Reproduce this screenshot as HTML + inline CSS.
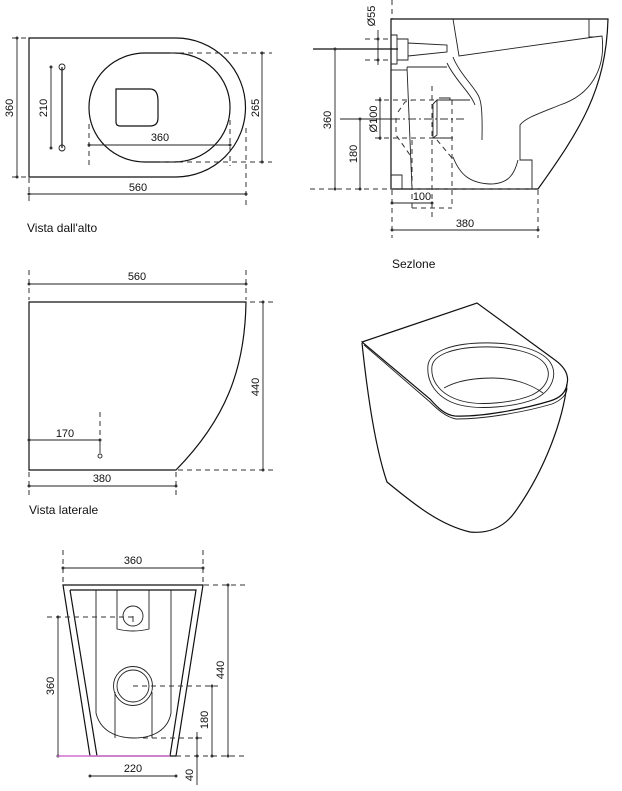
<!DOCTYPE html>
<html><head><meta charset="utf-8"><style>
html,body{margin:0;padding:0;background:#fff;}
svg{display:block;}
text{font-family:"Liberation Sans",sans-serif;font-size:11px;fill:#111;}
.l{stroke:#111;stroke-width:1.2;fill:none;}
.t{stroke:#222;stroke-width:0.9;fill:none;}
.d{stroke:#333;stroke-width:1;fill:none;stroke-dasharray:5,4;}
.dot{fill:#333;}
</style></head><body>
<svg width="622" height="791" viewBox="0 0 622 791" xmlns="http://www.w3.org/2000/svg">
<!-- TOP VIEW -->
<path class="l" d="M29,38 H176 A69.5,69.5 0 0 1 176,177 H29 Z"/>
<rect class="l" x="89" y="53" width="141" height="109" rx="56" ry="54"/>
<path class="l" d="M116,89 H150 Q158,89 158,101 V118 Q158,126 150,126 H120 Q116,126 116,122 Z"/>
<line class="l" x1="62" y1="67" x2="62" y2="148"/>
<circle class="t" cx="62" cy="67" r="3"/><circle class="t" cx="62" cy="148" r="3"/>
<line class="t" x1="51" y1="67" x2="51" y2="148"/><circle class="dot" cx="51" cy="67" r="1.5"/><circle class="dot" cx="51" cy="148" r="1.5"/>
<text transform="translate(47,108) rotate(-90)" text-anchor="middle">210</text>
<line class="t" x1="17" y1="38" x2="17" y2="177"/><line class="d" x1="12" y1="38" x2="29" y2="38"/><line class="d" x1="12" y1="177" x2="29" y2="177"/>
<circle class="dot" cx="17" cy="38" r="1.5"/><circle class="dot" cx="17" cy="177" r="1.5"/>
<text transform="translate(13,108) rotate(-90)" text-anchor="middle">360</text>
<line class="d" x1="170" y1="53" x2="272" y2="53"/><line class="d" x1="160" y1="162" x2="272" y2="162"/>
<line class="t" x1="262" y1="53" x2="262" y2="162"/><circle class="dot" cx="262" cy="53" r="1.5"/><circle class="dot" cx="262" cy="162" r="1.5"/>
<text transform="translate(259,108) rotate(-90)" text-anchor="middle">265</text>
<line class="t" x1="89" y1="145" x2="230" y2="145"/><circle class="dot" cx="89" cy="145" r="1.5"/><circle class="dot" cx="230" cy="145" r="1.5"/>
<line class="d" x1="89" y1="124" x2="89" y2="166"/><line class="d" x1="230" y1="120" x2="230" y2="166"/>
<text x="160" y="141" text-anchor="middle">360</text>
<line class="t" x1="29" y1="194" x2="246" y2="194"/><circle class="dot" cx="29" cy="194" r="1.5"/><circle class="dot" cx="246" cy="194" r="1.5"/>
<line class="d" x1="29" y1="178" x2="29" y2="205"/><line class="d" x1="246" y1="128" x2="246" y2="205"/>
<text x="138" y="191" text-anchor="middle">560</text>
<text x="27" y="232" style="font-size:12px">Vista dall'alto</text>

<!-- SECTION -->
<line class="d" x1="392" y1="0" x2="392" y2="19"/>
<path class="l" d="M391,19 H608 C606,90 580,130 538,189 H391 Z"/>
<path class="t" d="M453,19 L459,56 L594,37 L589,37 L589,19"/>
<path class="t" d="M594,37 L602,36 C606,70 590,95 560,105 C540,113 525,118 520,125 L520,160 L532,160 L532,189"/>
<path class="t" d="M453,57 C460,75 478,90 480,100 C483,110 482,130 482,140"/>
<path class="t" d="M447,63 C455,80 470,92 475,105"/>
<path class="t" d="M453,157 C460,175 470,183 490,184 C510,184 515,172 518,160"/>
<path class="t" d="M407,67 H447 M407,67 L412,189"/>
<path class="t" d="M391,35 H397 V64 H391 M397,39 H408 V60 H397 M408,43 L447,45 L447,52 L408,56"/>
<path class="t" d="M391,70 H407"/>
<path class="t" d="M391,175 H402 V189"/>
<path class="t" d="M437,100 H470 M433,104 L437,100 V135 L433,138 H453 M433,104 V138 M439,98 H450 V100"/>
<line class="d" x1="365" y1="39" x2="392" y2="39"/><line class="d" x1="365" y1="60" x2="392" y2="60"/>
<line class="t" x1="378" y1="30" x2="378" y2="65"/><circle class="dot" cx="378" cy="39" r="1.5"/><circle class="dot" cx="378" cy="60" r="1.5"/>
<text transform="translate(375,16) rotate(-90)" text-anchor="middle">Ø55</text>
<line class="l" x1="313" y1="49" x2="398" y2="49"/>
<line class="t" x1="335" y1="49" x2="335" y2="189"/><circle class="dot" cx="335" cy="49" r="1.5"/><circle class="dot" cx="335" cy="189" r="1.5"/>
<text transform="translate(331,120) rotate(-90)" text-anchor="middle">360</text>
<line class="d" x1="310" y1="189" x2="392" y2="189"/><line class="d" x1="412" y1="189" x2="538" y2="189"/>
<line class="t" x1="340" y1="119" x2="392" y2="119"/><line class="d" x1="392" y1="119" x2="466" y2="119" style="stroke-dasharray:8,3,2,3"/>
<line class="t" x1="360" y1="119" x2="360" y2="189"/><circle class="dot" cx="360" cy="119" r="1.5"/><circle class="dot" cx="360" cy="189" r="1.5"/>
<text transform="translate(357,154) rotate(-90)" text-anchor="middle">180</text>
<line class="d" x1="375" y1="100" x2="440" y2="100"/><line class="d" x1="375" y1="138" x2="440" y2="138"/>
<line class="t" x1="380" y1="97" x2="380" y2="140"/><circle class="dot" cx="380" cy="100" r="1.5"/><circle class="dot" cx="380" cy="138" r="1.5"/>
<text transform="translate(377,119) rotate(-90)" text-anchor="middle">Ø100</text>
<line class="d" x1="432" y1="86" x2="432" y2="218"/><line class="d" x1="452" y1="100" x2="452" y2="208"/><line class="d" x1="412" y1="140" x2="412" y2="208"/>
<line class="d" x1="412" y1="208" x2="452" y2="208"/>
<path class="d" d="M396,118 L396,135 L410,155 M398,112 L405,102 L412,100 M437,140 L452,158"/>
<line class="t" x1="392" y1="203" x2="432" y2="203"/><circle class="dot" cx="392" cy="203" r="1.5"/><circle class="dot" cx="432" cy="203" r="1.5"/>
<text x="422" y="200" text-anchor="middle">100</text>
<line class="d" x1="392" y1="190" x2="392" y2="238"/><line class="d" x1="538" y1="190" x2="538" y2="238"/>
<line class="t" x1="392" y1="230" x2="538" y2="230"/><circle class="dot" cx="392" cy="230" r="1.5"/><circle class="dot" cx="538" cy="230" r="1.5"/>
<text x="465" y="227" text-anchor="middle">380</text>
<text x="392" y="268" style="font-size:12px">Sezlone</text>

<!-- SIDE VIEW -->
<path class="l" d="M29,302 H246 C245,370 225,420 176,470 H29 Z"/>
<line class="d" x1="29" y1="270" x2="29" y2="300"/><line class="d" x1="246" y1="270" x2="246" y2="300"/>
<line class="t" x1="29" y1="284" x2="246" y2="284"/><circle class="dot" cx="29" cy="284" r="1.5"/><circle class="dot" cx="246" cy="284" r="1.5"/>
<text x="137" y="280" text-anchor="middle">560</text>
<line class="d" x1="250" y1="302" x2="276" y2="302"/><line class="d" x1="178" y1="470" x2="276" y2="470"/>
<line class="t" x1="263" y1="302" x2="263" y2="470"/><circle class="dot" cx="263" cy="302" r="1.5"/><circle class="dot" cx="263" cy="470" r="1.5"/>
<text transform="translate(259,387) rotate(-90)" text-anchor="middle">440</text>
<line class="t" x1="29" y1="440" x2="100" y2="440"/><circle class="dot" cx="29" cy="440" r="1.5"/><circle class="dot" cx="100" cy="440" r="1.5"/>
<line class="d" x1="100" y1="412" x2="100" y2="438"/><line class="t" x1="100" y1="441" x2="100" y2="453"/><circle class="t" cx="100" cy="456" r="2"/>
<text x="65" y="437" text-anchor="middle">170</text>
<line class="d" x1="29" y1="472" x2="29" y2="497"/><line class="d" x1="176" y1="472" x2="176" y2="497"/>
<line class="t" x1="29" y1="486" x2="176" y2="486"/><circle class="dot" cx="29" cy="486" r="1.5"/><circle class="dot" cx="176" cy="486" r="1.5"/>
<text x="102" y="482" text-anchor="middle">380</text>
<text x="29" y="514" style="font-size:12px">Vista laterale</text>

<!-- 3D VIEW -->
<path class="l" d="M362,342 L477,303 L555,360 C566,368 569,376 567,384 C566,392 560,398 550,401 C520,410 480,417 455,416 C445,415 438,408 430,399 Z"/>
<path class="t" d="M364,345 L430,402 C438,410 446,417 456,419 C485,419 525,412 552,404 C562,400 567,394 567,388"/>
<path class="l" d="M362,343 C368,400 376,450 387,482 C415,505 440,525 470,532 C490,534 505,526 515,512 C545,470 563,420 567,384"/>
<path class="t" d="M428,365 C430,352 450,344 480,343 C510,342 540,348 550,362 C558,374 553,390 535,399 C515,407 480,410 460,405 C440,400 426,385 428,365 Z"/>
<path class="t" d="M432,366 C434,355 452,348 480,347 C508,346 536,352 545,364 C552,374 548,387 532,395 C513,403 480,406 462,401 C443,396 430,383 432,366 Z"/>
<path class="t" d="M444,388 C458,380 476,378 493,378 C515,378 532,385 543,393"/>

<!-- FRONT VIEW -->
<path class="l" d="M63,585 H203 L176,756 H90 Z"/>
<path class="l" d="M70,590 H196 L170,756 M97,756 L70,590"/>
<path class="t" d="M96,590 V713 C100,730 115,738 134,738 C153,738 168,730 171,713 V590"/>
<path class="t" d="M117,590 V629 Q133,633 149,629 V590"/>
<circle class="t" cx="133" cy="616" r="10"/>
<path class="t" d="M133,616 L133,622"/>
<circle class="t" cx="133" cy="686" r="19.5"/><circle class="t" cx="133" cy="686" r="16"/>
<path class="t" d="M115,692 V738 M152,692 V738"/>
<line class="d" x1="63" y1="550" x2="63" y2="584"/><line class="d" x1="203" y1="550" x2="203" y2="584"/>
<line class="t" x1="63" y1="568" x2="203" y2="568"/><circle class="dot" cx="63" cy="568" r="1.5"/><circle class="dot" cx="203" cy="568" r="1.5"/>
<text x="133" y="564" text-anchor="middle">360</text>
<line class="d" x1="204" y1="585" x2="246" y2="585"/><line class="d" x1="176" y1="756" x2="246" y2="756"/>
<line class="t" x1="228" y1="585" x2="228" y2="756"/><circle class="dot" cx="228" cy="585" r="1.5"/><circle class="dot" cx="228" cy="756" r="1.5"/>
<text transform="translate(224,670) rotate(-90)" text-anchor="middle">440</text>
<line class="d" x1="133" y1="686" x2="218" y2="686"/>
<line class="t" x1="212" y1="686" x2="212" y2="756"/><circle class="dot" cx="212" cy="686" r="1.5"/><circle class="dot" cx="212" cy="756" r="1.5"/>
<text transform="translate(208,720) rotate(-90)" text-anchor="middle">180</text>
<line class="d" x1="143" y1="738" x2="205" y2="738"/>
<line class="t" x1="197" y1="732" x2="197" y2="785"/><circle class="dot" cx="197" cy="738" r="1.5"/><circle class="dot" cx="197" cy="756" r="1.5"/>
<text transform="translate(193,775) rotate(-90)" text-anchor="middle">40</text>
<line class="d" x1="47" y1="617" x2="133" y2="617"/>
<line class="t" x1="58" y1="617" x2="58" y2="756"/><circle class="dot" cx="58" cy="617" r="1.5"/><circle class="dot" cx="58" cy="756" r="1.5"/>
<text transform="translate(54,686) rotate(-90)" text-anchor="middle">360</text>
<line x1="57" y1="756" x2="170" y2="756" stroke="#d070d0" stroke-width="1.5"/>
<line class="t" x1="90" y1="776" x2="176" y2="776"/><circle class="dot" cx="90" cy="776" r="1.5"/><circle class="dot" cx="176" cy="776" r="1.5"/>
<text x="133" y="772" text-anchor="middle">220</text>
</svg>
</body></html>
